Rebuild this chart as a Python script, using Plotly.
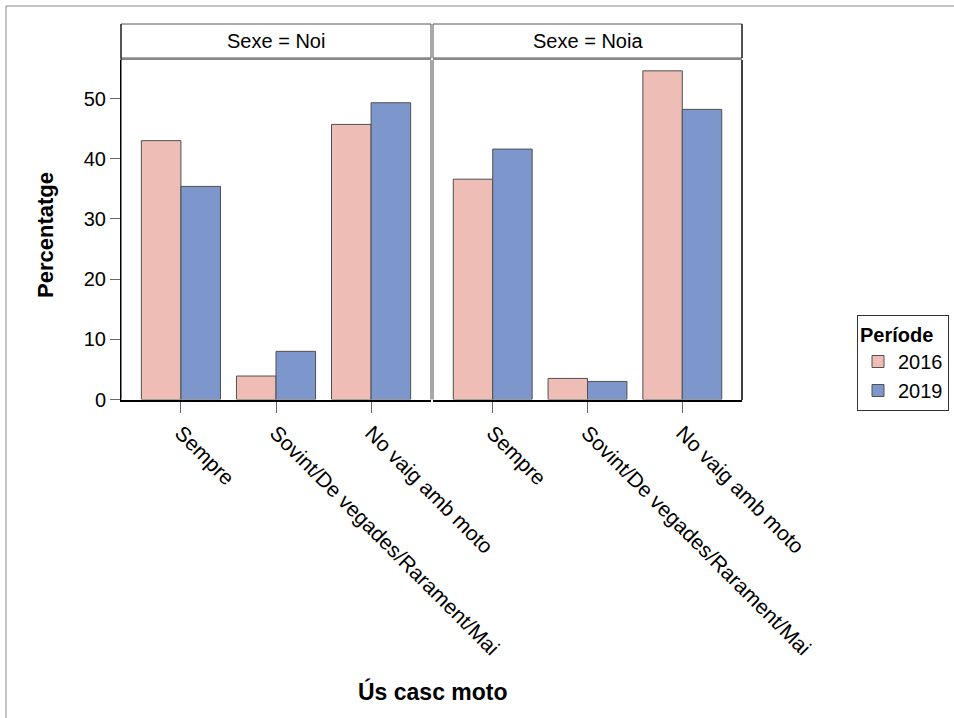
import plotly.graph_objects as go

categories = ["Sempre", "Sovint/De vegades/Rarament/Mai", "No vaig amb moto"]
noi_2016 = [43.0, 3.9, 45.7]
noi_2019 = [35.4, 8.0, 49.3]
noia_2016 = [36.6, 3.5, 54.6]
noia_2019 = [41.6, 3.0, 48.2]
panels = ["Sexe = Noi", "Sexe = Noia"]
years = ["2016", "2019"]

W, H = 954, 718
def px(x): return x / W
def py(y): return 1 - y / H

c16 = "#EEBDB6"
c19 = "#7D96CB"
outline = dict(color="#505050", width=1)
FONT = "Liberation Sans, Arial, sans-serif"

fig = go.Figure()
for i, (a, b) in enumerate([(noi_2016, noi_2019), (noia_2016, noia_2019)]):
    xa = "x" if i == 0 else "x2"
    ya = "y" if i == 0 else "y2"
    fig.add_trace(go.Bar(x=categories, y=a, name=years[0], marker=dict(color=c16, line=outline),
                         xaxis=xa, yaxis=ya, showlegend=(i == 0), legendgroup="a"))
    fig.add_trace(go.Bar(x=categories, y=b, name=years[1], marker=dict(color=c19, line=outline),
                         xaxis=xa, yaxis=ya, showlegend=(i == 0), legendgroup="b"))

ydom = [py(399.5), py(60)]
yr = [0, 56.4]
xr = [-0.63, 2.63]
xcommon = dict(range=xr, type="category", tickangle=45, ticks="outside", ticklen=11,
               tickcolor="#666", tickfont=dict(family=FONT, size=21, color="#000"),
               showline=True, linecolor="#000", linewidth=2, showgrid=False, zeroline=False,
               fixedrange=True, automargin=False)
fig.update_layout(
    width=W, height=H, autosize=False,
    margin=dict(l=0, r=0, t=0, b=0, pad=0, autoexpand=False),
    paper_bgcolor="white", plot_bgcolor="white",
    barmode="group", bargap=0.168, bargroupgap=0,
    xaxis=dict(domain=[px(121), px(431)], anchor="y", **xcommon),
    xaxis2=dict(domain=[px(433), px(742)], anchor="y2", **xcommon),
    yaxis=dict(domain=ydom, range=yr, anchor="x", tickvals=[0, 10, 20, 30, 40, 50],
               ticks="outside", ticklen=10, tickcolor="#666",
               tickfont=dict(family=FONT, size=20, color="#000"),
               showline=True, linecolor="#000", linewidth=1, showgrid=False, zeroline=False,
               fixedrange=True, automargin=False),
    yaxis2=dict(domain=ydom, range=yr, anchor="x2", showticklabels=False, showgrid=False,
                zeroline=False, showline=False, fixedrange=True, automargin=False),
    legend=dict(x=px(857), y=py(315), xanchor="left", yanchor="top",
                title=dict(text="<b>Període</b>", font=dict(family=FONT, size=20, color="#000")),
                font=dict(family=FONT, size=20, color="#000"),
                bordercolor="#333", borderwidth=1, bgcolor="white",
                itemwidth=30, tracegroupgap=0),
    font=dict(family=FONT),
)

shapes = []
shapes.append(dict(type="line", xref="paper", yref="paper", x0=px(6), x1=1, y0=py(6), y1=py(6),
                   line=dict(color="#888", width=1)))
shapes.append(dict(type="line", xref="paper", yref="paper", x0=px(6), x1=px(6), y0=0, y1=py(6),
                   line=dict(color="#888", width=1)))
shapes.append(dict(type="line", xref="paper", yref="paper", x0=px(431), x1=px(431), y0=py(399.5), y1=py(60),
                   line=dict(color="#888", width=1.5)))
shapes.append(dict(type="line", xref="paper", yref="paper", x0=px(433), x1=px(433), y0=py(399.5), y1=py(60),
                   line=dict(color="#888", width=1.5)))
shapes.append(dict(type="line", xref="paper", yref="paper", x0=px(742), x1=px(742), y0=py(400), y1=py(60),
                   line=dict(color="#000", width=1.5)))
annotations = []
for (x0, x1), t in zip([(121, 431), (433, 742)], panels):
    shapes.append(dict(type="rect", xref="paper", yref="paper", x0=px(x0), x1=px(x1), y0=py(58), y1=py(24),
                       line=dict(color="#555", width=1), fillcolor="white"))
    shapes.append(dict(type="rect", xref="paper", yref="paper", x0=px(x0), x1=px(x1), y0=py(60), y1=py(58),
                       line=dict(width=0), fillcolor="#888"))
    annotations.append(dict(text=t, xref="paper", yref="paper", x=px((x0 + x1) / 2), y=py(41),
                            xanchor="center", yanchor="middle", showarrow=False,
                            font=dict(family=FONT, size=20, color="#000")))
shapes.append(dict(type="line", xref="paper", yref="paper", x0=px(121), x1=px(121), y0=py(399.5), y1=py(24),
                   line=dict(color="#000", width=1)))
shapes.append(dict(type="line", xref="paper", yref="paper", x0=px(742), x1=px(742), y0=py(58), y1=py(24),
                   line=dict(color="#000", width=1)))

annotations.append(dict(text="<b>Ús casc moto</b>", xref="paper", yref="paper", x=px(433), y=py(691),
                        xanchor="center", yanchor="middle", showarrow=False,
                        font=dict(family=FONT, size=23, color="#000")))
annotations.append(dict(text="<b>Percentatge</b>", xref="paper", yref="paper", x=px(46), y=py(235),
                        xanchor="center", yanchor="middle", showarrow=False, textangle=-90,
                        font=dict(family=FONT, size=22, color="#000")))
fig.update_layout(shapes=shapes, annotations=annotations)

fig.write_html("out.html", config={"responsive": False, "displayModeBar": False},
               post_script="document.body.style.margin='0';document.body.style.overflow='hidden';")
